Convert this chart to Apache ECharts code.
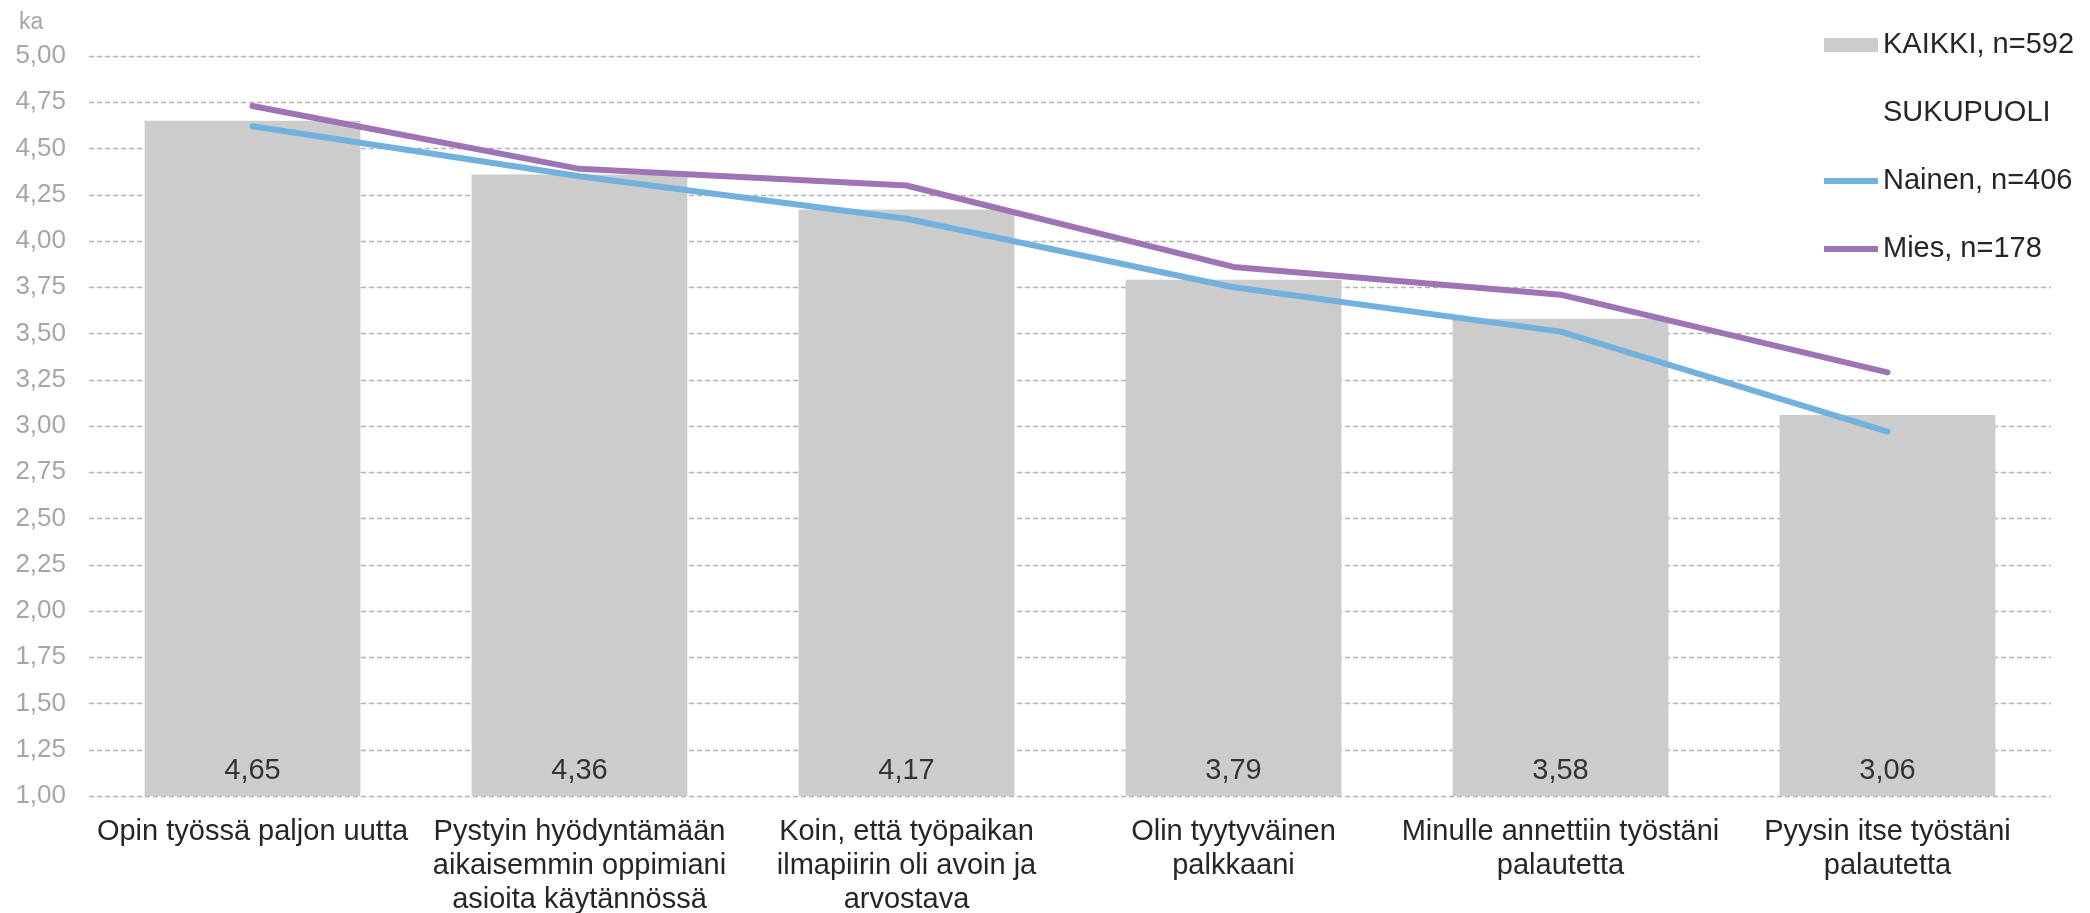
<!DOCTYPE html>
<html lang="fi">
<head>
  <meta charset="UTF-8">
  <title>Kaikki ja sukupuoli</title>
  <script src="https://cdn.jsdelivr.net/npm/echarts@6/dist/echarts.min.js"></script>
  <style>
    html, body { margin: 0; padding: 0; background: #fff; }
    #main { width: 2090px; height: 913px; }
  </style>
</head>
<body>
<div id="main"></div>
<script>
  // categories (x axis)
  var categories = [
    'Opin työssä paljon uutta',
    'Pystyin hyödyntämään\naikaisemmin oppimiani\nasioita käytännössä',
    'Koin, että työpaikan\nilmapiirin oli avoin ja\narvostava',
    'Olin tyytyväinen\npalkkaani',
    'Minulle annettiin työstäni\npalautetta',
    'Pyysin itse työstäni\npalautetta'
  ];
  // series values
  var kaikki = [4.65, 4.36, 4.17, 3.79, 3.58, 3.06];
  var nainen = [4.62, 4.35, 4.12, 3.75, 3.51, 2.97];
  var mies = [4.73, 4.39, 4.30, 3.86, 3.71, 3.29];
  // y axis ticks
  var yMin = 1, yMax = 5, yStep = 0.25;

  var fontFam = '"Liberation Sans", Arial, sans-serif';
  var lineIcon = 'path://M0,0H54V6H0Z';
  function fi(v) { return v.toFixed(2).replace('.', ','); }

  var myChart = echarts.init(document.getElementById('main'));
  myChart.setOption({
    animation: false,
    textStyle: { fontFamily: fontFam },
    grid: { left: 89, right: 39, top: 56, bottom: 117, outerBoundsMode: 'none', containLabel: false },
    legend: {
      orient: 'vertical',
      left: 1700,
      top: 0,
      padding: [30, 10, 12, 124],
      backgroundColor: '#ffffff',
      itemWidth: 54,
      itemHeight: 14,
      itemGap: 38,
      textStyle: { fontSize: 29, color: '#262626', lineHeight: 30, fontFamily: fontFam },
      data: [
        { name: 'KAIKKI, n=592', icon: 'rect' },
        { name: 'SUKUPUOLI', icon: 'rect', itemStyle: { opacity: 0 } },
        { name: 'Nainen, n=406', icon: lineIcon, itemStyle: { color: '#72b0dd' } },
        { name: 'Mies, n=178', icon: lineIcon, itemStyle: { color: '#9f74b4' } }
      ]
    },
    xAxis: {
      type: 'category',
      data: categories,
      axisLine: { show: false },
      axisTick: { show: false },
      axisLabel: {
        interval: 0,
        margin: 19,
        fontSize: 29,
        lineHeight: 34,
        color: '#262626',
        fontFamily: fontFam
      }
    },
    yAxis: {
      type: 'value',
      min: yMin,
      max: yMax,
      interval: yStep,
      name: 'ka',
      nameLocation: 'end',
      nameGap: 22,
      nameTextStyle: { fontSize: 23, color: '#a6a6a6', align: 'left', padding: [0, 0, 0, -70] },
      axisLine: { show: false },
      axisTick: { show: false },
      axisLabel: {
        margin: 23,
        fontSize: 26,
        color: '#a6a6a6',
        formatter: function (v) { return fi(v); }
      },
      splitLine: {
        lineStyle: { color: '#b3b3b3', type: [5, 3], width: 1.3 }
      }
    },
    series: [
      {
        name: 'KAIKKI, n=592',
        type: 'bar',
        data: kaikki,
        barCategoryGap: '34%',
        itemStyle: { color: '#cccccc' },
        label: {
          show: true,
          position: 'insideBottom',
          distance: 11,
          fontSize: 29,
          color: '#333333',
          fontFamily: fontFam,
          formatter: function (p) { return fi(p.value); }
        },
        z: 1
      },
      {
        name: 'SUKUPUOLI',
        type: 'line',
        data: [],
        symbol: 'none',
        lineStyle: { opacity: 0 },
        itemStyle: { color: '#ffffff' }
      },
      {
        name: 'Nainen, n=406',
        type: 'line',
        data: nainen,
        symbol: 'none',
        lineStyle: { color: '#72b0dd', width: 6, cap: 'round' },
        itemStyle: { color: '#72b0dd' },
        z: 3
      },
      {
        name: 'Mies, n=178',
        type: 'line',
        data: mies,
        symbol: 'none',
        lineStyle: { color: '#9f74b4', width: 6, cap: 'round' },
        itemStyle: { color: '#9f74b4' },
        z: 4
      }
    ]
  });
</script>
</body>
</html>
